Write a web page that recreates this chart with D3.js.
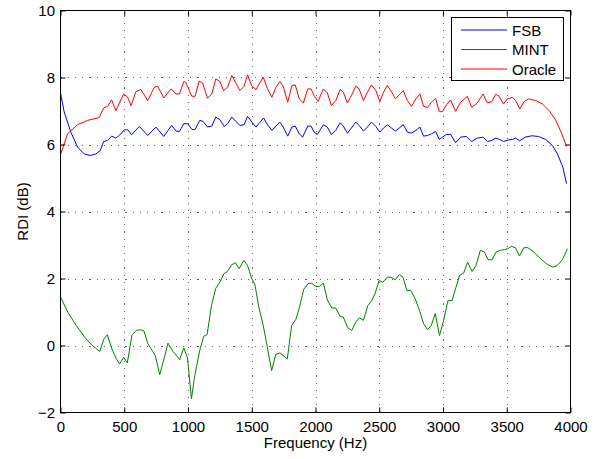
<!DOCTYPE html>
<html>
<head>
<meta charset="utf-8">
<script src="https://cdn.jsdelivr.net/npm/d3@7"></script>
<style>
  html, body { margin: 0; padding: 0; background: #fff; }
  svg { display: block; font-family: "Liberation Sans", Arial, Helvetica, sans-serif; }
</style>
</head>
<body>
<svg id="chart" width="603" height="459"></svg>
<script>
// ---- Data ----
const xTicks = [0, 500, 1000, 1500, 2000, 2500, 3000, 3500, 4000];
const yTicks = [-2, 0, 2, 4, 6, 8, 10];
const seriesNames = ["FSB", "MINT", "Oracle"];

const fsbFreq = [0,29,81,134,186,233,278,312,338,369,401,435,461,501,527,558,618,684,749,810,872,906,933,967,998,1030,1056,1092,1118,1153,1187,1218,1250,1284,1310,1344,1375,1407,1440,1467,1501,1533,1593,1624,1658,1690,1721,1747,1782,1815,1841,1873,1899,1939,1965,1989,2015,2062,2093,2125,2159,2193,2218,2250,2281,2316,2342,2376,2407,2439,2473,2505,2533,2564,2596,2627,2656,2688,2721,2753,2787,2819,2847,2879,2910,2942,2971,2996,3026,3060,3099,3138,3183,3225,3269,3314,3348,3382,3413,3443,3474,3518,3545,3570,3602,3644,3696,3749,3806,3858,3898,3940,3969];
const fsbVal  = [7.54,6.97,6.37,5.92,5.72,5.67,5.72,5.82,6.09,6.12,6.25,6.19,6.27,6.44,6.44,6.29,6.54,6.27,6.52,6.24,6.57,6.40,6.39,6.62,6.62,6.45,6.45,6.72,6.69,6.52,6.55,6.82,6.74,6.54,6.62,6.82,6.69,6.57,6.59,6.84,6.67,6.52,6.79,6.59,6.42,6.55,6.67,6.52,6.25,6.52,6.55,6.32,6.22,6.55,6.55,6.37,6.30,6.59,6.52,6.30,6.42,6.65,6.55,6.34,6.49,6.67,6.57,6.40,6.52,6.67,6.54,6.37,6.49,6.59,6.49,6.40,6.49,6.59,6.37,6.34,6.42,6.52,6.25,6.27,6.32,6.39,6.15,6.22,6.30,6.30,6.05,6.22,6.24,6.09,6.19,6.22,6.09,6.12,6.19,6.15,6.09,6.14,6.15,6.19,6.11,6.22,6.26,6.24,6.15,5.97,5.72,5.32,4.83];

const mintFreq = [0,58,123,189,241,307,341,367,403,438,464,495,524,561,595,629,655,686,744,778,812,843,883,935,967,996,1027,1053,1092,1124,1150,1184,1218,1250,1281,1310,1342,1373,1401,1438,1467,1499,1525,1556,1590,1622,1656,1688,1721,1779,1813,1845,1873,1908,1944,1970,2004,2030,2062,2093,2128,2159,2193,2218,2253,2285,2316,2344,2376,2410,2442,2468,2499,2528,2564,2593,2625,2659,2686,2717,2748,2782,2816,2848,2879,2908,2939,2973,3005,3039,3071,3102,3130,3162,3193,3228,3259,3293,3325,3353,3385,3416,3450,3482,3508,3537,3568,3600,3634,3665,3712,3765,3818,3862,3897,3936,3976];
const mintVal  = [1.45,0.99,0.60,0.25,0.03,-0.18,0.20,0.32,-0.10,-0.40,-0.55,-0.35,-0.52,0.32,0.45,0.47,0.43,0.05,-0.30,-0.87,-0.40,0.07,-0.18,-0.42,-0.07,-0.37,-1.59,-0.90,-0.15,0.28,0.33,1.19,1.71,1.89,2.14,2.21,2.41,2.47,2.29,2.54,2.39,2.01,1.81,1.14,0.60,-0.05,-0.75,-0.27,-0.22,-0.40,0.60,0.77,1.12,1.68,1.85,1.86,1.76,1.76,1.86,1.36,1.12,1.12,0.87,0.85,0.53,0.45,0.70,0.83,0.75,1.19,1.34,1.56,1.94,1.89,2.04,2.04,1.96,2.12,2.04,1.64,1.64,1.39,1.04,0.65,0.47,0.60,0.95,0.30,0.75,1.34,1.34,1.74,2.09,2.16,2.49,2.21,2.39,2.84,2.79,2.56,2.56,2.79,2.84,2.86,2.89,2.96,2.92,2.67,2.92,2.92,2.79,2.59,2.42,2.34,2.39,2.56,2.89];

const oracleFreq = [0,55,134,212,304,338,369,401,435,495,527,553,592,631,684,736,762,810,867,906,933,967,982,1030,1056,1087,1114,1153,1187,1218,1250,1279,1310,1344,1375,1407,1440,1467,1501,1533,1590,1624,1658,1690,1721,1747,1782,1815,1841,1873,1905,1939,1965,1989,2020,2062,2093,2125,2159,2193,2218,2250,2281,2316,2342,2376,2407,2439,2473,2505,2533,2564,2596,2627,2656,2688,2721,2753,2787,2819,2847,2879,2910,2942,2971,2996,3026,3060,3099,3138,3191,3225,3269,3314,3348,3382,3413,3440,3474,3505,3545,3570,3602,3636,3670,3728,3780,3833,3885,3932,3969];
const oracleVal  = [5.70,6.32,6.59,6.72,6.80,7.09,7.14,7.33,7.01,7.51,7.41,7.16,7.58,7.64,7.31,7.71,7.74,7.39,7.66,7.51,7.51,7.88,7.86,7.44,7.44,7.89,7.84,7.38,7.51,7.96,7.88,7.61,7.71,8.06,7.84,7.61,7.74,8.08,7.74,7.64,8.01,7.66,7.41,7.71,7.88,7.74,7.26,7.76,7.78,7.36,7.24,7.66,7.66,7.46,7.29,7.66,7.54,7.16,7.31,7.64,7.56,7.24,7.46,7.74,7.66,7.31,7.56,7.78,7.61,7.28,7.56,7.76,7.58,7.36,7.48,7.61,7.31,7.14,7.36,7.51,7.14,7.11,7.26,7.38,6.98,6.98,7.18,7.33,6.99,7.26,7.44,7.11,7.24,7.51,7.24,7.28,7.50,7.44,7.21,7.36,7.41,7.31,7.06,7.28,7.36,7.31,7.21,7.01,6.72,6.32,5.94];

const seriesColors = ["#0000ff", "#008000", "#ff0000"];

// ---- Layout ----
const svg = d3.select("#chart");
const L = 60.5, R = 570.5, T = 10.5, B = 412.5;
const x = d3.scaleLinear().domain([0, 4000]).range([L, R]);
const y = d3.scaleLinear().domain([-2, 10]).range([B, T]);

// grid
const grid = svg.append("g").attr("stroke", "#666").attr("stroke-width", 1)
  .attr("stroke-dasharray", "1.2,6").attr("shape-rendering", "crispEdges");
grid.selectAll("line.v").data(xTicks.slice(1, -1)).join("line")
  .attr("x1", d => Math.round(x(d)) + 0.5).attr("x2", d => Math.round(x(d)) + 0.5)
  .attr("y1", B).attr("y2", T);
grid.selectAll("line.h").data(yTicks.slice(1, -1)).join("line")
  .attr("x1", L).attr("x2", R)
  .attr("y1", d => Math.round(y(d)) + 0.5).attr("y2", d => Math.round(y(d)) + 0.5);

// series
const series = [
  {name: seriesNames[0], f: fsbFreq, v: fsbVal, c: seriesColors[0]},
  {name: seriesNames[1], f: mintFreq, v: mintVal, c: seriesColors[1]},
  {name: seriesNames[2], f: oracleFreq, v: oracleVal, c: seriesColors[2]}
];
const line = d3.line().x(d => x(d[0])).y(d => y(d[1]));
series.forEach(s => {
  svg.append("path")
    .datum(s.f.map((f, i) => [f, s.v[i]]))
    .attr("fill", "none").attr("stroke", s.c).attr("stroke-width", 1)
    .attr("d", line);
});

// axes
const fs = 15;
const axB = svg.append("g").attr("transform", `translate(0,${B})`)
  .call(d3.axisBottom(x).tickValues(xTicks).tickSize(-5).tickPadding(8.5).tickFormat(d3.format("d")));
const axL = svg.append("g").attr("transform", `translate(${L},0)`)
  .call(d3.axisLeft(y).tickValues(yTicks).tickSize(-5).tickPadding(5.5).tickFormat(d3.format("d")));
const axT = svg.append("g").attr("transform", `translate(0,${T})`)
  .call(d3.axisTop(x).tickValues(xTicks).tickSize(-5).tickFormat(""));
const axR = svg.append("g").attr("transform", `translate(${R},0)`)
  .call(d3.axisRight(y).tickValues(yTicks).tickSize(-5).tickFormat(""));
[axB, axL, axT, axR].forEach(a => {
  a.select(".domain").remove();
  a.selectAll("text").attr("font-size", fs).attr("fill", "#000")
    .attr("font-family", "'Liberation Sans', Arial, Helvetica, sans-serif");
  a.selectAll("line").attr("stroke", "#000");
});

// box
svg.append("rect").attr("x", L).attr("y", T).attr("width", R - L).attr("height", B - T)
  .attr("fill", "none").attr("stroke", "#000").attr("stroke-width", 1);

// axis labels
svg.append("text").attr("x", (L + R) / 2).attr("y", 448).attr("text-anchor", "middle")
  .attr("font-size", fs).text("Frequency (Hz)");
svg.append("text").attr("transform", `translate(28,${(T + B) / 2}) rotate(-90)`)
  .attr("text-anchor", "middle").attr("font-size", fs).text("RDI (dB)");

// legend
const lg = svg.append("g");
lg.append("rect").attr("x", 451.5).attr("y", 17.5).attr("width", 112).attr("height", 63)
  .attr("fill", "#fff").attr("stroke", "#000").attr("stroke-width", 1);
series.forEach((s, i) => {
  const yy = 30 + i * 19.5;
  lg.append("line").attr("x1", 461).attr("x2", 507).attr("y1", yy).attr("y2", yy)
    .attr("stroke", s.c).attr("stroke-width", 1);
  lg.append("text").attr("x", 512).attr("y", yy + 5.5).attr("font-size", fs).text(s.name);
});
</script>
</body>
</html>
